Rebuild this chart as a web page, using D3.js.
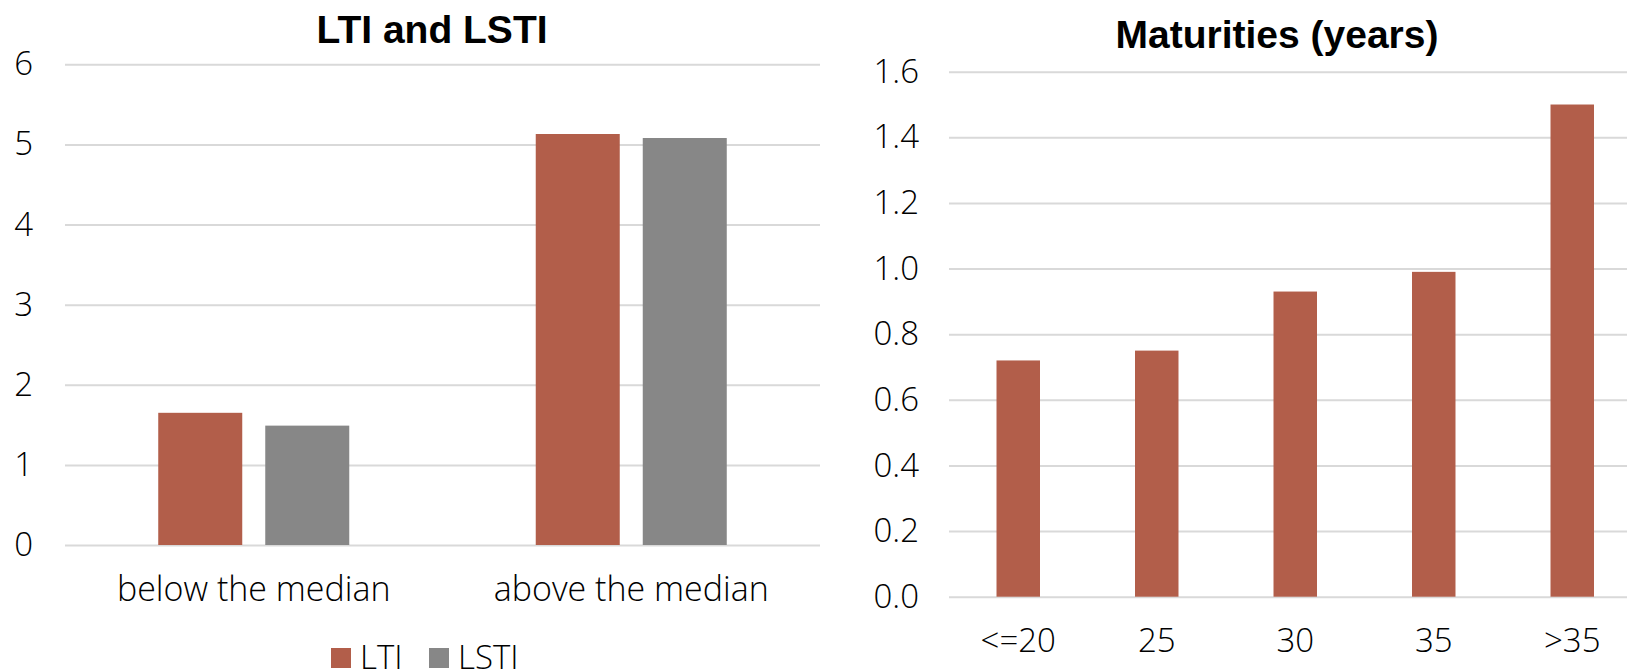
<!DOCTYPE html>
<html>
<head>
<meta charset="utf-8">
<script src="https://cdn.jsdelivr.net/npm/d3@7"></script>
<style>
  html, body { margin: 0; padding: 0; background: #ffffff; overflow: hidden; }
  svg { display: block; }
  .light { font-family: "Open Sans", "Helvetica Neue", Arial, sans-serif; font-weight: 300; fill: #000; }
  .title { font-family: "Liberation Sans", Arial, sans-serif; font-weight: bold; fill: #000; }
</style>
</head>
<body>
<svg id="chart" width="1627" height="671"></svg>
<script>
// LTI / LSTI panel
const ratioCategories = ["below the median", "above the median"];
const ratioSeries = ["LTI", "LSTI"];
const ltiValues = [1.65, 5.13];
const lstiValues = [1.49, 5.08];
const ratioTicks = [0, 1, 2, 3, 4, 5, 6];

// Maturities panel
const maturityCategories = ["<=20", "25", "30", "35", ">35"];
const maturityValues = [0.72, 0.75, 0.93, 0.99, 1.50];
const maturityTicks = [0, 0.2, 0.4, 0.6, 0.8, 1.0, 1.2, 1.4, 1.6];

const colors = { LTI: "#b25e4a", LSTI: "#878787" };
const gridColor = "#d9d9d9";

const svg = d3.select("#chart");

// ---------- left panel ----------
{
  const left = 65, right = 820, top = 64.3, bottom = 545;
  const y = d3.scaleLinear().domain([0, 6]).range([bottom, top]);
  const x0 = d3.scaleBand().domain(ratioCategories).range([left, right])
    .paddingInner(0.494).paddingOuter(0.247);
  const x1 = d3.scaleBand().domain(ratioSeries).range([0, x0.bandwidth()])
    .paddingInner(0.215);

  const g = svg.append("g");

  g.append("text").attr("class", "title")
    .attr("x", 432).attr("y", 43).attr("text-anchor", "middle")
    .style("font-size", "39px").text("LTI and LSTI");

  const yAxis = d3.axisLeft(y).tickValues(ratioTicks).tickSize(-(right - left))
    .tickFormat(d3.format("d")).tickPadding(32);
  const ya = g.append("g").attr("transform", `translate(${left},0)`).call(yAxis);
  ya.select(".domain").remove();
  ya.selectAll(".tick line").attr("stroke", gridColor).attr("stroke-width", 2);
  ya.selectAll(".tick text").attr("class", "light").style("font-size", "33px")
    .attr("fill", "#000");

  const rows = ratioCategories.map((c, i) => ({ cat: c, values: [
    { key: "LTI", value: ltiValues[i] }, { key: "LSTI", value: lstiValues[i] }] }));

  g.append("g").selectAll("g").data(rows).join("g")
    .attr("transform", d => `translate(${x0(d.cat)},0)`)
    .selectAll("rect").data(d => d.values).join("rect")
    .attr("x", d => x1(d.key)).attr("width", x1.bandwidth())
    .attr("y", d => y(d.value)).attr("height", d => y(0) - y(d.value))
    .attr("fill", d => colors[d.key]);

  const xAxis = d3.axisBottom(x0).tickSize(0).tickPadding(0);
  const xa = g.append("g").attr("transform", `translate(0,${bottom})`).call(xAxis);
  xa.select(".domain").remove();
  xa.selectAll(".tick text").attr("class", "light").style("font-size", "34px")
    .attr("fill", "#000").attr("y", 56).attr("dy", null);

  // legend
  const legendItems = [{ key: "LTI", x: 331 }, { key: "LSTI", x: 429 }];
  const lg = g.append("g").selectAll("g").data(legendItems).join("g")
    .attr("transform", d => `translate(${d.x},648)`);
  lg.append("rect").attr("width", 20).attr("height", 20).attr("fill", d => colors[d.key]);
  lg.append("text").attr("class", "light").style("font-size", "33px")
    .attr("x", 29).attr("y", 21).text(d => d.key);
}

// ---------- right panel ----------
{
  const left = 949, right = 1641.5, top = 71.7, bottom = 596.7;
  const y = d3.scaleLinear().domain([0, 1.6]).range([bottom, top]);
  const x = d3.scaleBand().domain(maturityCategories).range([left, right])
    .paddingInner(0.686).paddingOuter(0.343);

  const g = svg.append("g");

  g.append("text").attr("class", "title")
    .attr("x", 1277).attr("y", 48).attr("text-anchor", "middle")
    .style("font-size", "39px").text("Maturities (years)");

  const yAxis = d3.axisLeft(y).tickValues(maturityTicks).tickSize(-(right - left))
    .tickFormat(d3.format(".1f")).tickPadding(30);
  const ya = g.append("g").attr("transform", `translate(${left},0)`).call(yAxis);
  ya.select(".domain").remove();
  ya.selectAll(".tick line").attr("stroke", gridColor).attr("stroke-width", 2);
  ya.selectAll(".tick text").attr("class", "light").style("font-size", "33px")
    .attr("fill", "#000");

  g.append("g").selectAll("rect").data(maturityCategories).join("rect")
    .attr("x", d => x(d)).attr("width", x.bandwidth())
    .attr("y", (d, i) => y(maturityValues[i]))
    .attr("height", (d, i) => y(0) - y(maturityValues[i]))
    .attr("fill", colors.LTI);

  const xAxis = d3.axisBottom(x).tickSize(0).tickPadding(0);
  const xa = g.append("g").attr("transform", `translate(0,${bottom})`).call(xAxis);
  xa.select(".domain").remove();
  xa.selectAll(".tick text").attr("class", "light").style("font-size", "33px")
    .attr("fill", "#000").attr("y", 55).attr("dy", null);
}
</script>
</body>
</html>
